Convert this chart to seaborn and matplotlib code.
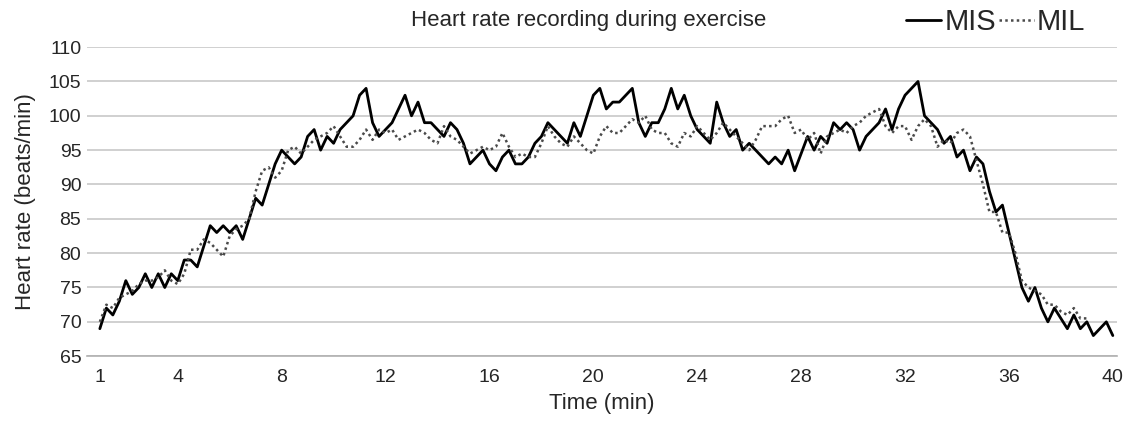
# Heart rate recording during exercise - MIS vs MIL
import numpy as np
import pandas as pd
import matplotlib
matplotlib.use("Agg")
import matplotlib.pyplot as plt
import seaborn as sns

# DATA (one sample every 15 s, starting at minute 1)

mis = [
    69, 72, 71, 73,   76, 74, 75, 77,   75, 77, 75, 77,   76, 79, 79, 78,
    81, 84, 83, 84,   83, 84, 82, 85,   88, 87, 90, 93,   95, 94, 93, 94,
    97, 98, 95, 97,   96, 98, 99, 100,  103, 104, 99, 97, 98, 99, 101, 103,
    100, 102, 99, 99, 98, 97, 99, 98,   96, 93, 94, 95,   93, 92, 94, 95,
    93, 93, 94, 96,   97, 99, 98, 97,   96, 99, 97, 100,  103, 104, 101, 102,
    102, 103, 104, 99, 97, 99, 99, 101, 104, 101, 103, 100, 98, 97, 96, 102,
    99, 97, 98, 95,   96, 95, 94, 93,   94, 93, 95, 92,   94.5, 97, 95, 97,
    96, 99, 98, 99,   98, 95, 97, 98,   99, 101, 98, 101, 103, 104, 105, 100,
    99, 98, 96, 97,   94, 95, 92, 94,   93, 89, 86, 87,   83, 79, 75, 73,
    75, 72, 70, 72,   70.5, 69, 71, 69, 70, 68, 69, 70,
    68,
]

mil = [
    70, 72.5, 72, 73.5,   74, 74.5, 75.5, 76,   76, 76.5, 77.5, 76,
    75.5, 77, 80.5, 80.5, 82, 81.5, 80.5, 79.5, 82.5, 83.5, 84, 85,
    89, 92, 92.5, 91,     92, 95, 95.5, 94.5,   95.5, 96.5, 97, 97.5,
    98.5, 97, 95.5, 95.5, 96.5, 98, 96.5, 98,   97.5, 98, 96.5, 97,
    97.5, 98, 97.5, 96.5, 96, 98.5, 97, 96.5,   95.5, 94.5, 95, 95.5,
    95, 95.5, 97.5, 95.5, 94, 94.5, 94, 94,     96, 98.5, 97, 96,
    95.5, 97, 96, 95,     94.5, 97, 98.5, 97.5, 97.5, 98.5, 99.5, 99,
    100, 98, 97.5, 97.5, 96, 95.5, 97.5, 97,   98.5, 97.5, 96.5, 97.5,
    99, 98, 97, 96,       95, 96.5, 98.5, 98.5, 98.5, 99.5, 100, 97.5,
    98, 96.5, 97.5, 94.5, 97, 97.5, 98, 97.5,   98.5, 99, 100, 100.5,
    101, 98.5, 97.5, 98.5, 98.5, 96.5, 98.5, 99.5, 98.5, 95.5, 96.5, 96,
    97.5, 98, 97, 93.5,   90, 86, 86, 83,       83, 80, 76, 75,
    74.5, 74, 72.5, 72.5, 71.5, 71, 72, 70.5,
    70.5,
]

start_min = 1
step_min = 0.25
tick_minutes = [1, 4, 8, 12, 16, 20, 24, 28, 32, 36, 40]
y_ticks = [65, 70, 75, 80, 85, 90, 95, 100, 105, 110]

time_mis = start_min + step_min * np.arange(len(mis))
time_mil = start_min + step_min * np.arange(len(mil))
df_mis = pd.DataFrame({"Time": time_mis, "HR": mis})
df_mil = pd.DataFrame({"Time": time_mil, "HR": mil})

# STYLE
sns.set_style("white")
plt.rcParams["font.family"] = ["Liberation Sans", "DejaVu Sans"]

fig = plt.figure(figsize=(11.28, 4.21), dpi=100)
ax = fig.add_axes([0.077, 0.154, 0.913, 0.734])

sns.lineplot(data=df_mis, x="Time", y="HR", ax=ax, color="black",
             linewidth=2.0, label="MIS")
sns.lineplot(data=df_mil, x="Time", y="HR", ax=ax, color="#4a4a4a",
             linewidth=1.8, linestyle=(0, (1, 1.3)), label="MIL")

ax.set_xlim(0.54, 40.15)
ax.set_ylim(65, 110)
ax.set_yticks(y_ticks)
ax.set_xticks(tick_minutes)
ax.set_xticks(np.arange(0.5, 40.2, 0.25), minor=True)
ax.grid(axis="y", color="#c8c8c8", linewidth=1.2)
ax.set_axisbelow(True)

for side in ["top", "right", "left"]:
    ax.spines[side].set_visible(False)
ax.spines["bottom"].set_color("#b0b0b0")
ax.spines["bottom"].set_linewidth(1.2)

ax.tick_params(axis="y", length=0, pad=4, labelsize=14)
ax.tick_params(axis="x", which="major", length=0, pad=9, labelsize=14)
ax.tick_params(axis="x", which="minor", length=3, color="#b0b0b0", width=0.8)

ax.set_xlabel("Time (min)", fontsize=16, labelpad=5)
ax.set_ylabel("Heart rate (beats/min)", fontsize=16, labelpad=9)

fig.text(0.522, 0.952, "Heart rate recording during exercise",
         ha="center", va="center", fontsize=16)

ax.legend(loc="center right", bbox_to_anchor=(0.962, 0.948),
          bbox_transform=fig.transFigure, ncol=2, frameon=False,
          fontsize=21, handlelength=1.2, handletextpad=0.1,
          columnspacing=0.1, borderpad=0, borderaxespad=0)

fig.savefig("out.png", dpi=100)
